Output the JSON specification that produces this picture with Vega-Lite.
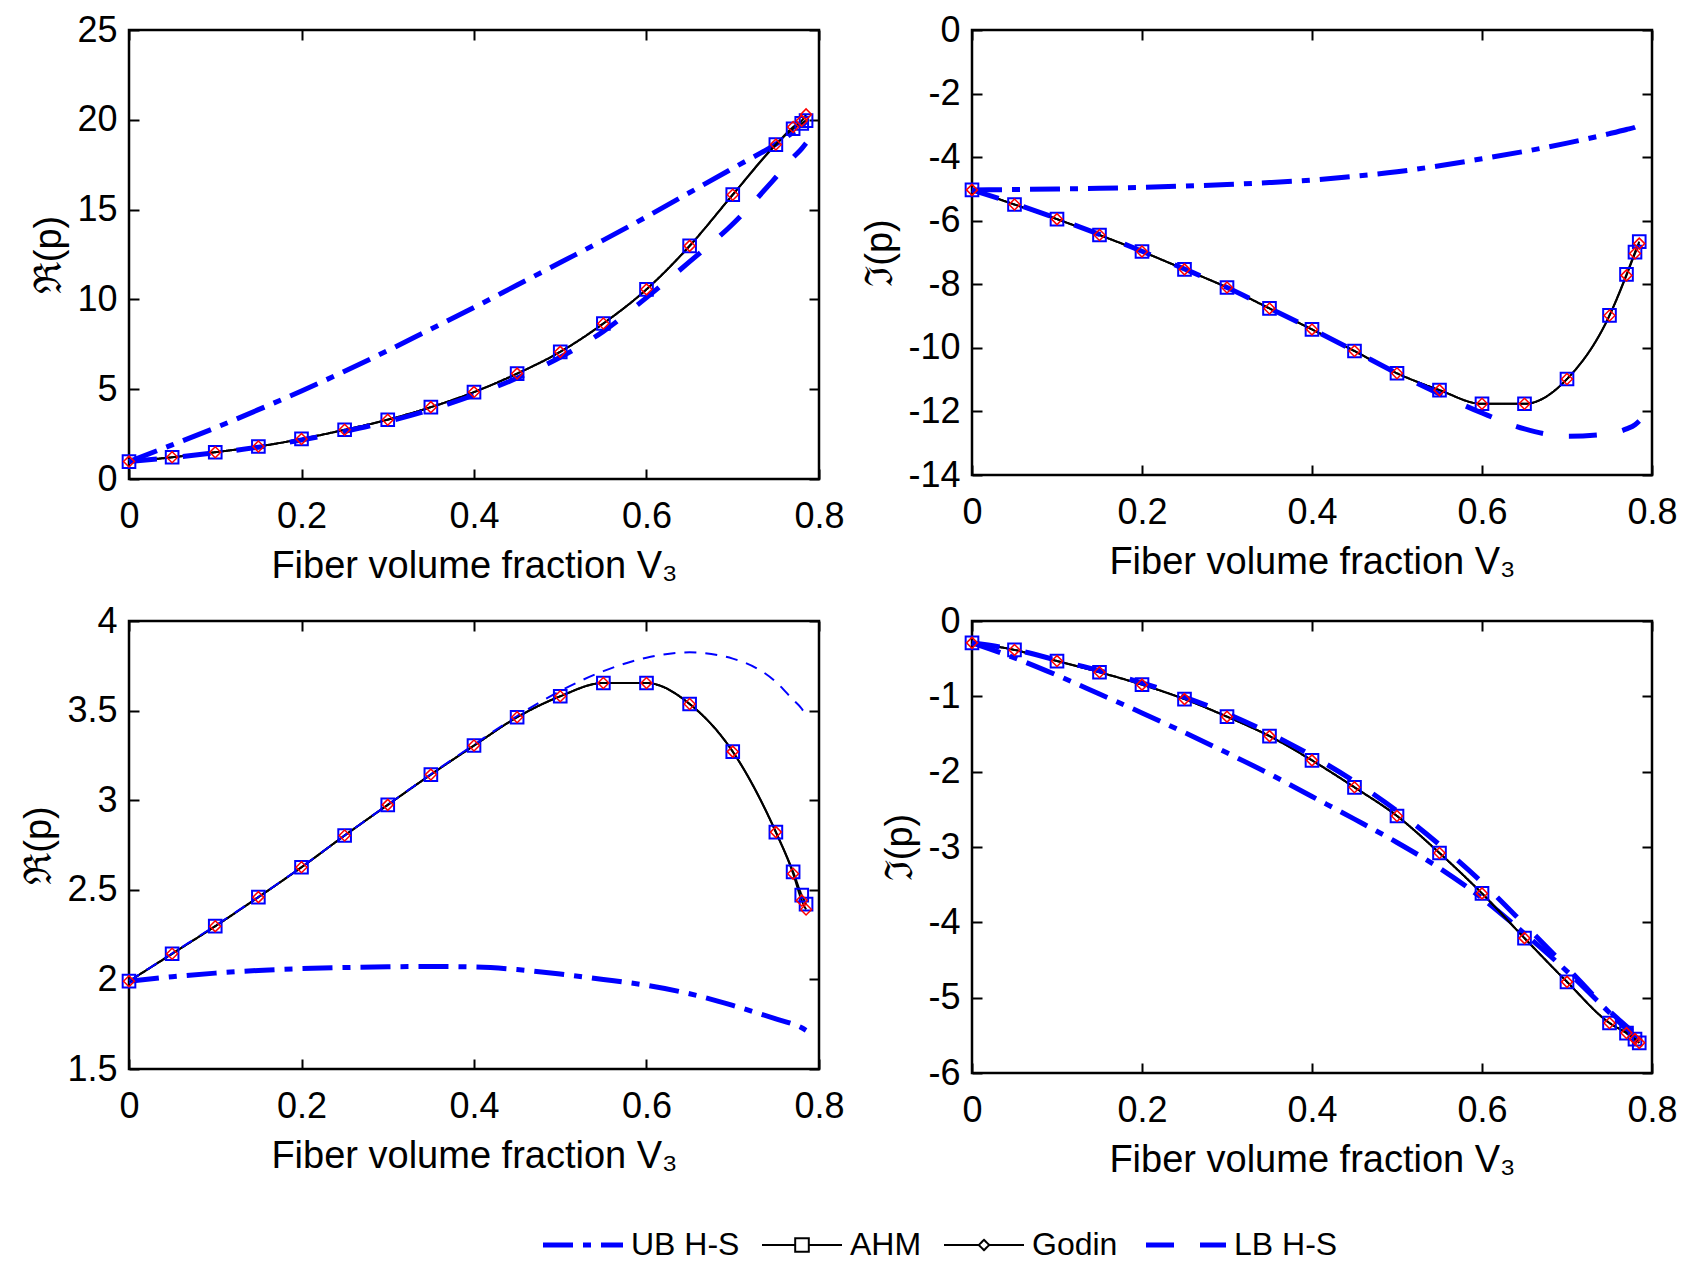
{
  "$schema": "https://vega.github.io/schema/vega-lite/v6.json",
  "background": "#ffffff",
  "padding": {"left": 19, "top": 10, "right": 5, "bottom": 5},
  "config": {
    "font": "Liberation Sans",
    "view": {"stroke": "#000000", "strokeWidth": 2.5},
    "axis": {"grid": false, "domain": false, "tickColor": "#000000", "tickWidth": 2, "tickSize": -10, "labelFont": "Liberation Sans", "labelFontSize": 36, "labelColor": "#000000", "titleFont": "Liberation Sans", "titleFontSize": 38, "titleFontWeight": "normal", "titleColor": "#000000", "titlePadding": 8, "labelFlush": false, "labelOverlap": false},
    "axisX": {"labelPadding": 30, "titlePadding": 13},
    "axisY": {"labelPadding": 22}
  },
  "datasets": {
    "tl": [
      {"x":0,"model":"UB H-S","y":0.97},{"x":0.05,"model":"UB H-S","y":1.9},{"x":0.1,"model":"UB H-S","y":2.85},{"x":0.15,"model":"UB H-S","y":3.86},{"x":0.2,"model":"UB H-S","y":4.9},{"x":0.25,"model":"UB H-S","y":6.0},{"x":0.3,"model":"UB H-S","y":7.15},{"x":0.35,"model":"UB H-S","y":8.35},{"x":0.4,"model":"UB H-S","y":9.55},{"x":0.45,"model":"UB H-S","y":10.8},{"x":0.5,"model":"UB H-S","y":12.05},{"x":0.55,"model":"UB H-S","y":13.3},{"x":0.6,"model":"UB H-S","y":14.6},{"x":0.65,"model":"UB H-S","y":15.95},{"x":0.7,"model":"UB H-S","y":17.3},{"x":0.75,"model":"UB H-S","y":18.65},{"x":0.77,"model":"UB H-S","y":19.3},{"x":0.78,"model":"UB H-S","y":19.65},{"x":0.785,"model":"UB H-S","y":19.9},
      {"x":0,"model":"AHM","y":0.97},{"x":0.05,"model":"AHM","y":1.21},{"x":0.1,"model":"AHM","y":1.49},{"x":0.15,"model":"AHM","y":1.81},{"x":0.2,"model":"AHM","y":2.23},{"x":0.25,"model":"AHM","y":2.74},{"x":0.3,"model":"AHM","y":3.3},{"x":0.35,"model":"AHM","y":4.0},{"x":0.4,"model":"AHM","y":4.84},{"x":0.45,"model":"AHM","y":5.87},{"x":0.5,"model":"AHM","y":7.08},{"x":0.55,"model":"AHM","y":8.66},{"x":0.6,"model":"AHM","y":10.56},{"x":0.65,"model":"AHM","y":12.98},{"x":0.7,"model":"AHM","y":15.83},{"x":0.75,"model":"AHM","y":18.62},{"x":0.77,"model":"AHM","y":19.5},{"x":0.78,"model":"AHM","y":19.8},{"x":0.785,"model":"AHM","y":19.95},
      {"x":0,"model":"Godin","y":0.97},{"x":0.05,"model":"Godin","y":1.21},{"x":0.1,"model":"Godin","y":1.49},{"x":0.15,"model":"Godin","y":1.81},{"x":0.2,"model":"Godin","y":2.23},{"x":0.25,"model":"Godin","y":2.74},{"x":0.3,"model":"Godin","y":3.3},{"x":0.35,"model":"Godin","y":4.0},{"x":0.4,"model":"Godin","y":4.84},{"x":0.45,"model":"Godin","y":5.87},{"x":0.5,"model":"Godin","y":7.08},{"x":0.55,"model":"Godin","y":8.66},{"x":0.6,"model":"Godin","y":10.56},{"x":0.65,"model":"Godin","y":12.98},{"x":0.7,"model":"Godin","y":15.83},{"x":0.75,"model":"Godin","y":18.62},{"x":0.77,"model":"Godin","y":19.6},{"x":0.78,"model":"Godin","y":19.95},{"x":0.785,"model":"Godin","y":20.3},
      {"x":0,"model":"LB H-S","y":0.97},{"x":0.05,"model":"LB H-S","y":1.19},{"x":0.1,"model":"LB H-S","y":1.46},{"x":0.15,"model":"LB H-S","y":1.77},{"x":0.2,"model":"LB H-S","y":2.17},{"x":0.25,"model":"LB H-S","y":2.65},{"x":0.3,"model":"LB H-S","y":3.2},{"x":0.35,"model":"LB H-S","y":3.87},{"x":0.4,"model":"LB H-S","y":4.67},{"x":0.45,"model":"LB H-S","y":5.62},{"x":0.5,"model":"LB H-S","y":6.78},{"x":0.55,"model":"LB H-S","y":8.22},{"x":0.6,"model":"LB H-S","y":10.1},{"x":0.65,"model":"LB H-S","y":12.1},{"x":0.7,"model":"LB H-S","y":14.2},{"x":0.75,"model":"LB H-S","y":16.8},{"x":0.77,"model":"LB H-S","y":17.9},{"x":0.78,"model":"LB H-S","y":18.4},{"x":0.785,"model":"LB H-S","y":18.7}
    ],
    "tr": [
      {"x":0,"model":"UB H-S","y":-5.03},{"x":0.05,"model":"UB H-S","y":-5.02},{"x":0.1,"model":"UB H-S","y":-5.0},{"x":0.15,"model":"UB H-S","y":-4.98},{"x":0.2,"model":"UB H-S","y":-4.95},{"x":0.25,"model":"UB H-S","y":-4.91},{"x":0.3,"model":"UB H-S","y":-4.86},{"x":0.35,"model":"UB H-S","y":-4.8},{"x":0.4,"model":"UB H-S","y":-4.72},{"x":0.45,"model":"UB H-S","y":-4.6},{"x":0.5,"model":"UB H-S","y":-4.46},{"x":0.55,"model":"UB H-S","y":-4.27},{"x":0.6,"model":"UB H-S","y":-4.05},{"x":0.65,"model":"UB H-S","y":-3.82},{"x":0.7,"model":"UB H-S","y":-3.56},{"x":0.75,"model":"UB H-S","y":-3.26},{"x":0.77,"model":"UB H-S","y":-3.13},{"x":0.78,"model":"UB H-S","y":-3.06},{"x":0.785,"model":"UB H-S","y":-3.0},
      {"x":0,"model":"AHM","y":-5.03},{"x":0.05,"model":"AHM","y":-5.49},{"x":0.1,"model":"AHM","y":-5.95},{"x":0.15,"model":"AHM","y":-6.45},{"x":0.2,"model":"AHM","y":-6.97},{"x":0.25,"model":"AHM","y":-7.53},{"x":0.3,"model":"AHM","y":-8.1},{"x":0.35,"model":"AHM","y":-8.76},{"x":0.4,"model":"AHM","y":-9.42},{"x":0.45,"model":"AHM","y":-10.1},{"x":0.5,"model":"AHM","y":-10.8},{"x":0.55,"model":"AHM","y":-11.33},{"x":0.6,"model":"AHM","y":-11.76},{"x":0.65,"model":"AHM","y":-11.76},{"x":0.7,"model":"AHM","y":-10.98},{"x":0.75,"model":"AHM","y":-8.98},{"x":0.77,"model":"AHM","y":-7.69},{"x":0.78,"model":"AHM","y":-6.99},{"x":0.785,"model":"AHM","y":-6.66},
      {"x":0,"model":"Godin","y":-5.03},{"x":0.05,"model":"Godin","y":-5.49},{"x":0.1,"model":"Godin","y":-5.95},{"x":0.15,"model":"Godin","y":-6.45},{"x":0.2,"model":"Godin","y":-6.97},{"x":0.25,"model":"Godin","y":-7.53},{"x":0.3,"model":"Godin","y":-8.1},{"x":0.35,"model":"Godin","y":-8.76},{"x":0.4,"model":"Godin","y":-9.42},{"x":0.45,"model":"Godin","y":-10.1},{"x":0.5,"model":"Godin","y":-10.8},{"x":0.55,"model":"Godin","y":-11.33},{"x":0.6,"model":"Godin","y":-11.76},{"x":0.65,"model":"Godin","y":-11.76},{"x":0.7,"model":"Godin","y":-10.98},{"x":0.75,"model":"Godin","y":-8.98},{"x":0.77,"model":"Godin","y":-7.72},{"x":0.78,"model":"Godin","y":-7.03},{"x":0.785,"model":"Godin","y":-6.72},
      {"x":0,"model":"LB H-S","y":-5.03},{"x":0.05,"model":"LB H-S","y":-5.46},{"x":0.1,"model":"LB H-S","y":-5.93},{"x":0.15,"model":"LB H-S","y":-6.43},{"x":0.2,"model":"LB H-S","y":-6.96},{"x":0.25,"model":"LB H-S","y":-7.52},{"x":0.3,"model":"LB H-S","y":-8.1},{"x":0.35,"model":"LB H-S","y":-8.75},{"x":0.4,"model":"LB H-S","y":-9.41},{"x":0.45,"model":"LB H-S","y":-10.1},{"x":0.5,"model":"LB H-S","y":-10.8},{"x":0.55,"model":"LB H-S","y":-11.45},{"x":0.6,"model":"LB H-S","y":-12.05},{"x":0.65,"model":"LB H-S","y":-12.55},{"x":0.7,"model":"LB H-S","y":-12.78},{"x":0.75,"model":"LB H-S","y":-12.7},{"x":0.77,"model":"LB H-S","y":-12.55},{"x":0.78,"model":"LB H-S","y":-12.42},{"x":0.785,"model":"LB H-S","y":-12.3}
    ],
    "bl": [
      {"x":0,"model":"UB H-S","y":1.99},{"x":0.05,"model":"UB H-S","y":2.015},{"x":0.1,"model":"UB H-S","y":2.035},{"x":0.15,"model":"UB H-S","y":2.05},{"x":0.2,"model":"UB H-S","y":2.06},{"x":0.25,"model":"UB H-S","y":2.066},{"x":0.3,"model":"UB H-S","y":2.07},{"x":0.35,"model":"UB H-S","y":2.072},{"x":0.4,"model":"UB H-S","y":2.069},{"x":0.45,"model":"UB H-S","y":2.055},{"x":0.5,"model":"UB H-S","y":2.03},{"x":0.55,"model":"UB H-S","y":2.0},{"x":0.6,"model":"UB H-S","y":1.967},{"x":0.65,"model":"UB H-S","y":1.92},{"x":0.7,"model":"UB H-S","y":1.855},{"x":0.75,"model":"UB H-S","y":1.78},{"x":0.77,"model":"UB H-S","y":1.75},{"x":0.78,"model":"UB H-S","y":1.73},{"x":0.785,"model":"UB H-S","y":1.716},
      {"x":0,"model":"AHM","y":1.99},{"x":0.05,"model":"AHM","y":2.143},{"x":0.1,"model":"AHM","y":2.297},{"x":0.15,"model":"AHM","y":2.459},{"x":0.2,"model":"AHM","y":2.626},{"x":0.25,"model":"AHM","y":2.803},{"x":0.3,"model":"AHM","y":2.974},{"x":0.35,"model":"AHM","y":3.143},{"x":0.4,"model":"AHM","y":3.305},{"x":0.45,"model":"AHM","y":3.463},{"x":0.5,"model":"AHM","y":3.58},{"x":0.55,"model":"AHM","y":3.654},{"x":0.6,"model":"AHM","y":3.654},{"x":0.65,"model":"AHM","y":3.537},{"x":0.7,"model":"AHM","y":3.271},{"x":0.75,"model":"AHM","y":2.822},{"x":0.77,"model":"AHM","y":2.6},{"x":0.78,"model":"AHM","y":2.47},{"x":0.785,"model":"AHM","y":2.42},
      {"x":0,"model":"Godin","y":1.99},{"x":0.05,"model":"Godin","y":2.143},{"x":0.1,"model":"Godin","y":2.297},{"x":0.15,"model":"Godin","y":2.459},{"x":0.2,"model":"Godin","y":2.626},{"x":0.25,"model":"Godin","y":2.803},{"x":0.3,"model":"Godin","y":2.974},{"x":0.35,"model":"Godin","y":3.143},{"x":0.4,"model":"Godin","y":3.305},{"x":0.45,"model":"Godin","y":3.463},{"x":0.5,"model":"Godin","y":3.58},{"x":0.55,"model":"Godin","y":3.654},{"x":0.6,"model":"Godin","y":3.654},{"x":0.65,"model":"Godin","y":3.537},{"x":0.7,"model":"Godin","y":3.271},{"x":0.75,"model":"Godin","y":2.822},{"x":0.77,"model":"Godin","y":2.59},{"x":0.78,"model":"Godin","y":2.44},{"x":0.785,"model":"Godin","y":2.39},
      {"x":0,"model":"LB H-S","y":1.99},{"x":0.05,"model":"LB H-S","y":2.145},{"x":0.1,"model":"LB H-S","y":2.3},{"x":0.15,"model":"LB H-S","y":2.46},{"x":0.2,"model":"LB H-S","y":2.627},{"x":0.25,"model":"LB H-S","y":2.803},{"x":0.3,"model":"LB H-S","y":2.975},{"x":0.35,"model":"LB H-S","y":3.145},{"x":0.4,"model":"LB H-S","y":3.31},{"x":0.45,"model":"LB H-S","y":3.47},{"x":0.5,"model":"LB H-S","y":3.61},{"x":0.55,"model":"LB H-S","y":3.72},{"x":0.6,"model":"LB H-S","y":3.795},{"x":0.65,"model":"LB H-S","y":3.825},{"x":0.7,"model":"LB H-S","y":3.79},{"x":0.75,"model":"LB H-S","y":3.66},{"x":0.77,"model":"LB H-S","y":3.56},{"x":0.78,"model":"LB H-S","y":3.51},{"x":0.785,"model":"LB H-S","y":3.47}
    ],
    "br": [
      {"x":0,"model":"UB H-S","y":-0.29},{"x":0.05,"model":"UB H-S","y":-0.49},{"x":0.1,"model":"UB H-S","y":-0.72},{"x":0.15,"model":"UB H-S","y":-0.97},{"x":0.2,"model":"UB H-S","y":-1.22},{"x":0.25,"model":"UB H-S","y":-1.48},{"x":0.3,"model":"UB H-S","y":-1.75},{"x":0.35,"model":"UB H-S","y":-2.03},{"x":0.4,"model":"UB H-S","y":-2.33},{"x":0.45,"model":"UB H-S","y":-2.63},{"x":0.5,"model":"UB H-S","y":-2.94},{"x":0.55,"model":"UB H-S","y":-3.28},{"x":0.6,"model":"UB H-S","y":-3.68},{"x":0.65,"model":"UB H-S","y":-4.15},{"x":0.7,"model":"UB H-S","y":-4.65},{"x":0.75,"model":"UB H-S","y":-5.2},{"x":0.77,"model":"UB H-S","y":-5.42},{"x":0.78,"model":"UB H-S","y":-5.54},{"x":0.785,"model":"UB H-S","y":-5.62},
      {"x":0,"model":"AHM","y":-0.29},{"x":0.05,"model":"AHM","y":-0.384},{"x":0.1,"model":"AHM","y":-0.532},{"x":0.15,"model":"AHM","y":-0.68},{"x":0.2,"model":"AHM","y":-0.845},{"x":0.25,"model":"AHM","y":-1.037},{"x":0.3,"model":"AHM","y":-1.27},{"x":0.35,"model":"AHM","y":-1.528},{"x":0.4,"model":"AHM","y":-1.85},{"x":0.45,"model":"AHM","y":-2.208},{"x":0.5,"model":"AHM","y":-2.588},{"x":0.55,"model":"AHM","y":-3.08},{"x":0.6,"model":"AHM","y":-3.616},{"x":0.65,"model":"AHM","y":-4.21},{"x":0.7,"model":"AHM","y":-4.79},{"x":0.75,"model":"AHM","y":-5.336},{"x":0.77,"model":"AHM","y":-5.47},{"x":0.78,"model":"AHM","y":-5.55},{"x":0.785,"model":"AHM","y":-5.6},
      {"x":0,"model":"Godin","y":-0.29},{"x":0.05,"model":"Godin","y":-0.384},{"x":0.1,"model":"Godin","y":-0.532},{"x":0.15,"model":"Godin","y":-0.68},{"x":0.2,"model":"Godin","y":-0.845},{"x":0.25,"model":"Godin","y":-1.037},{"x":0.3,"model":"Godin","y":-1.27},{"x":0.35,"model":"Godin","y":-1.528},{"x":0.4,"model":"Godin","y":-1.85},{"x":0.45,"model":"Godin","y":-2.208},{"x":0.5,"model":"Godin","y":-2.588},{"x":0.55,"model":"Godin","y":-3.08},{"x":0.6,"model":"Godin","y":-3.616},{"x":0.65,"model":"Godin","y":-4.21},{"x":0.7,"model":"Godin","y":-4.79},{"x":0.75,"model":"Godin","y":-5.336},{"x":0.77,"model":"Godin","y":-5.47},{"x":0.78,"model":"Godin","y":-5.55},{"x":0.785,"model":"Godin","y":-5.6},
      {"x":0,"model":"LB H-S","y":-0.29},{"x":0.05,"model":"LB H-S","y":-0.38},{"x":0.1,"model":"LB H-S","y":-0.52},{"x":0.15,"model":"LB H-S","y":-0.66},{"x":0.2,"model":"LB H-S","y":-0.82},{"x":0.25,"model":"LB H-S","y":-1.01},{"x":0.3,"model":"LB H-S","y":-1.23},{"x":0.35,"model":"LB H-S","y":-1.49},{"x":0.4,"model":"LB H-S","y":-1.79},{"x":0.45,"model":"LB H-S","y":-2.13},{"x":0.5,"model":"LB H-S","y":-2.52},{"x":0.55,"model":"LB H-S","y":-2.97},{"x":0.6,"model":"LB H-S","y":-3.47},{"x":0.65,"model":"LB H-S","y":-4.03},{"x":0.7,"model":"LB H-S","y":-4.6},{"x":0.75,"model":"LB H-S","y":-5.18},{"x":0.77,"model":"LB H-S","y":-5.38},{"x":0.78,"model":"LB H-S","y":-5.48},{"x":0.785,"model":"LB H-S","y":-5.54}
    ]
  },
  "columns": 2,
  "spacing": {"row": 142, "column": 153},
  "bounds": "flush",
  "resolve": {"scale": {"color": "shared", "strokeDash": "shared"}, "legend": {"color": "shared", "strokeDash": "shared"}},
  "concat": [
    {
      "width": 690, "height": 449,
      "data": {"name": "tl"},
      "layer": [
        {
          "mark": {"type": "line", "interpolate": "monotone"},
          "encoding": {
            "x": {"field": "x", "type": "quantitative", "scale": {"domain": [0, 0.8], "nice": false}, "axis": {"values": [0, 0.2, 0.4, 0.6, 0.8], "title": "Fiber volume fraction V₃", "labelExpr": "replace(format(datum.value, '~g'), '\u2212', '-')"}},
            "y": {"field": "y", "type": "quantitative", "scale": {"domain": [0, 25], "nice": false, "zero": false}, "axis": {"values": [0, 5, 10, 15, 20, 25], "title": "ℜ(p)", "labelExpr": "replace(format(datum.value, '~g'), '\u2212', '-')"}},
            "color": {"field": "model", "type": "nominal", "scale": {"domain": ["UB H-S", "AHM", "Godin", "LB H-S"], "range": ["#0000ff", "#000000", "#000000", "#0000ff"]},
              "legend": {"orient": "none", "legendX": 438, "legendY": 1199, "direction": "horizontal", "title": null, "labelFontSize": 32, "labelFont": "Liberation Sans", "labelColor": "#000000", "symbolType": "stroke", "symbolSize": 6400, "symbolStrokeWidth": 5, "labelOffset": 32, "columnPadding": 18,
                "encode": {"symbols": {"update": {"shape": {"signal": "datum.value === 'AHM' ? 'M-1,0H-0.17M0.17,0H1M-0.17,-0.17H0.17V0.17H-0.17Z' : datum.value === 'Godin' ? 'M-1,0H-0.13M0.13,0H1M0,-0.13L0.13,0L0,0.13L-0.13,0Z' : 'stroke'"}, "strokeWidth": {"signal": "datum.value === 'AHM' || datum.value === 'Godin' ? 2 : 5"}}}}}},
            "strokeDash": {"field": "model", "type": "nominal", "scale": {"domain": ["UB H-S", "AHM", "Godin", "LB H-S"], "range": [[30, 10, 8, 10], [1, 0], [1, 0], [28, 26]]},
              "legend": {"orient": "none", "legendX": 438, "legendY": 1199, "direction": "horizontal", "title": null, "labelFontSize": 32, "labelFont": "Liberation Sans", "labelColor": "#000000", "symbolType": "stroke", "symbolSize": 6400, "symbolStrokeWidth": 5, "labelOffset": 32, "columnPadding": 18,
                "encode": {"symbols": {"update": {"shape": {"signal": "datum.value === 'AHM' ? 'M-1,0H-0.17M0.17,0H1M-0.17,-0.17H0.17V0.17H-0.17Z' : datum.value === 'Godin' ? 'M-1,0H-0.13M0.13,0H1M0,-0.13L0.13,0L0,0.13L-0.13,0Z' : 'stroke'"}, "strokeWidth": {"signal": "datum.value === 'AHM' || datum.value === 'Godin' ? 2 : 5"}}}}}},
            "strokeWidth": {"condition": {"test": "datum.model === 'UB H-S' || datum.model === 'LB H-S'", "value": 5}, "value": 2}
          }
        },
        {
          "transform": [{"filter": "datum.model === 'AHM'"}],
          "mark": {"type": "point", "shape": "square", "filled": false, "size": 160, "strokeWidth": 2, "color": "#0000ff", "opacity": 1},
          "encoding": {
            "x": {"field": "x", "type": "quantitative", "axis": {"orient": "top", "labels": false, "title": null, "values": [0, 0.2, 0.4, 0.6, 0.8]}},
            "y": {"field": "y", "type": "quantitative", "axis": {"orient": "right", "labels": false, "title": null, "values": [0, 5, 10, 15, 20, 25]}}
          }
        },
        {
          "transform": [{"filter": "datum.model === 'Godin'"}],
          "mark": {"type": "point", "shape": "diamond", "filled": false, "size": 120, "strokeWidth": 1.5, "color": "#ff0000", "opacity": 1},
          "encoding": {
            "x": {"field": "x", "type": "quantitative", "axis": null},
            "y": {"field": "y", "type": "quantitative", "axis": null}
          }
        }
      ],
      "resolve": {"axis": {"x": "independent", "y": "independent"}}
    },
    {
      "width": 680, "height": 445,
      "data": {"name": "tr"},
      "layer": [
        {
          "mark": {"type": "line", "interpolate": "monotone"},
          "encoding": {
            "x": {"field": "x", "type": "quantitative", "scale": {"domain": [0, 0.8], "nice": false}, "axis": {"values": [0, 0.2, 0.4, 0.6, 0.8], "title": "Fiber volume fraction V₃", "labelExpr": "replace(format(datum.value, '~g'), '\u2212', '-')"}},
            "y": {"field": "y", "type": "quantitative", "scale": {"domain": [-14, 0], "nice": false, "zero": false}, "axis": {"values": [-14, -12, -10, -8, -6, -4, -2, 0], "title": "ℑ(p)", "labelExpr": "replace(format(datum.value, '~g'), '\u2212', '-')"}},
            "color": {"field": "model", "type": "nominal", "scale": {"domain": ["UB H-S", "AHM", "Godin", "LB H-S"], "range": ["#0000ff", "#000000", "#000000", "#0000ff"]},
              "legend": {"orient": "none", "legendX": 438, "legendY": 1199, "direction": "horizontal", "title": null, "labelFontSize": 32, "labelFont": "Liberation Sans", "labelColor": "#000000", "symbolType": "stroke", "symbolSize": 6400, "symbolStrokeWidth": 5, "labelOffset": 32, "columnPadding": 18,
                "encode": {"symbols": {"update": {"shape": {"signal": "datum.value === 'AHM' ? 'M-1,0H-0.17M0.17,0H1M-0.17,-0.17H0.17V0.17H-0.17Z' : datum.value === 'Godin' ? 'M-1,0H-0.13M0.13,0H1M0,-0.13L0.13,0L0,0.13L-0.13,0Z' : 'stroke'"}, "strokeWidth": {"signal": "datum.value === 'AHM' || datum.value === 'Godin' ? 2 : 5"}}}}}},
            "strokeDash": {"field": "model", "type": "nominal", "scale": {"domain": ["UB H-S", "AHM", "Godin", "LB H-S"], "range": [[30, 10, 8, 10], [1, 0], [1, 0], [28, 26]]},
              "legend": {"orient": "none", "legendX": 438, "legendY": 1199, "direction": "horizontal", "title": null, "labelFontSize": 32, "labelFont": "Liberation Sans", "labelColor": "#000000", "symbolType": "stroke", "symbolSize": 6400, "symbolStrokeWidth": 5, "labelOffset": 32, "columnPadding": 18,
                "encode": {"symbols": {"update": {"shape": {"signal": "datum.value === 'AHM' ? 'M-1,0H-0.17M0.17,0H1M-0.17,-0.17H0.17V0.17H-0.17Z' : datum.value === 'Godin' ? 'M-1,0H-0.13M0.13,0H1M0,-0.13L0.13,0L0,0.13L-0.13,0Z' : 'stroke'"}, "strokeWidth": {"signal": "datum.value === 'AHM' || datum.value === 'Godin' ? 2 : 5"}}}}}},
            "strokeWidth": {"condition": {"test": "datum.model === 'UB H-S' || datum.model === 'LB H-S'", "value": 5}, "value": 2}
          }
        },
        {
          "transform": [{"filter": "datum.model === 'AHM'"}],
          "mark": {"type": "point", "shape": "square", "filled": false, "size": 160, "strokeWidth": 2, "color": "#0000ff", "opacity": 1},
          "encoding": {
            "x": {"field": "x", "type": "quantitative", "axis": {"orient": "top", "labels": false, "title": null, "values": [0, 0.2, 0.4, 0.6, 0.8]}},
            "y": {"field": "y", "type": "quantitative", "axis": {"orient": "right", "labels": false, "title": null, "values": [-14, -12, -10, -8, -6, -4, -2, 0]}}
          }
        },
        {
          "transform": [{"filter": "datum.model === 'Godin'"}],
          "mark": {"type": "point", "shape": "diamond", "filled": false, "size": 120, "strokeWidth": 1.5, "color": "#ff0000", "opacity": 1},
          "encoding": {
            "x": {"field": "x", "type": "quantitative", "axis": null},
            "y": {"field": "y", "type": "quantitative", "axis": null}
          }
        }
      ],
      "resolve": {"axis": {"x": "independent", "y": "independent"}}
    },
    {
      "width": 690, "height": 448,
      "data": {"name": "bl"},
      "layer": [
        {
          "mark": {"type": "line", "interpolate": "monotone"},
          "encoding": {
            "x": {"field": "x", "type": "quantitative", "scale": {"domain": [0, 0.8], "nice": false}, "axis": {"values": [0, 0.2, 0.4, 0.6, 0.8], "title": "Fiber volume fraction V₃", "labelExpr": "replace(format(datum.value, '~g'), '\u2212', '-')"}},
            "y": {"field": "y", "type": "quantitative", "scale": {"domain": [1.5, 4], "nice": false, "zero": false}, "axis": {"values": [1.5, 2, 2.5, 3, 3.5, 4], "title": "ℜ(p)", "labelExpr": "replace(format(datum.value, '~g'), '\u2212', '-')"}},
            "color": {"field": "model", "type": "nominal", "scale": {"domain": ["UB H-S", "AHM", "Godin", "LB H-S"], "range": ["#0000ff", "#000000", "#000000", "#0000ff"]},
              "legend": {"orient": "none", "legendX": 438, "legendY": 1199, "direction": "horizontal", "title": null, "labelFontSize": 32, "labelFont": "Liberation Sans", "labelColor": "#000000", "symbolType": "stroke", "symbolSize": 6400, "symbolStrokeWidth": 5, "labelOffset": 32, "columnPadding": 18,
                "encode": {"symbols": {"update": {"shape": {"signal": "datum.value === 'AHM' ? 'M-1,0H-0.17M0.17,0H1M-0.17,-0.17H0.17V0.17H-0.17Z' : datum.value === 'Godin' ? 'M-1,0H-0.13M0.13,0H1M0,-0.13L0.13,0L0,0.13L-0.13,0Z' : 'stroke'"}, "strokeWidth": {"signal": "datum.value === 'AHM' || datum.value === 'Godin' ? 2 : 5"}}}}}},
            "strokeDash": {"field": "model", "type": "nominal", "scale": {"domain": ["UB H-S", "AHM", "Godin", "LB H-S"], "range": [[30, 10, 8, 10], [1, 0], [1, 0], [28, 26]]},
              "condition": {"test": "datum.model === 'LB H-S'", "value": [12, 9]},
              "legend": {"orient": "none", "legendX": 438, "legendY": 1199, "direction": "horizontal", "title": null, "labelFontSize": 32, "labelFont": "Liberation Sans", "labelColor": "#000000", "symbolType": "stroke", "symbolSize": 6400, "symbolStrokeWidth": 5, "labelOffset": 32, "columnPadding": 18,
                "encode": {"symbols": {"update": {"shape": {"signal": "datum.value === 'AHM' ? 'M-1,0H-0.17M0.17,0H1M-0.17,-0.17H0.17V0.17H-0.17Z' : datum.value === 'Godin' ? 'M-1,0H-0.13M0.13,0H1M0,-0.13L0.13,0L0,0.13L-0.13,0Z' : 'stroke'"}, "strokeWidth": {"signal": "datum.value === 'AHM' || datum.value === 'Godin' ? 2 : 5"}}}}}},
            "strokeWidth": {"condition": {"test": "datum.model === 'UB H-S'", "value": 5}, "value": 2}
          }
        },
        {
          "transform": [{"filter": "datum.model === 'AHM'"}],
          "mark": {"type": "point", "shape": "square", "filled": false, "size": 160, "strokeWidth": 2, "color": "#0000ff", "opacity": 1},
          "encoding": {
            "x": {"field": "x", "type": "quantitative", "axis": {"orient": "top", "labels": false, "title": null, "values": [0, 0.2, 0.4, 0.6, 0.8]}},
            "y": {"field": "y", "type": "quantitative", "axis": {"orient": "right", "labels": false, "title": null, "values": [1.5, 2, 2.5, 3, 3.5, 4]}}
          }
        },
        {
          "transform": [{"filter": "datum.model === 'Godin'"}],
          "mark": {"type": "point", "shape": "diamond", "filled": false, "size": 120, "strokeWidth": 1.5, "color": "#ff0000", "opacity": 1},
          "encoding": {
            "x": {"field": "x", "type": "quantitative", "axis": null},
            "y": {"field": "y", "type": "quantitative", "axis": null}
          }
        }
      ],
      "resolve": {"axis": {"x": "independent", "y": "independent"}}
    },
    {
      "width": 680, "height": 452,
      "data": {"name": "br"},
      "layer": [
        {
          "mark": {"type": "line", "interpolate": "monotone"},
          "encoding": {
            "x": {"field": "x", "type": "quantitative", "scale": {"domain": [0, 0.8], "nice": false}, "axis": {"values": [0, 0.2, 0.4, 0.6, 0.8], "title": "Fiber volume fraction V₃", "labelExpr": "replace(format(datum.value, '~g'), '\u2212', '-')"}},
            "y": {"field": "y", "type": "quantitative", "scale": {"domain": [-6, 0], "nice": false, "zero": false}, "axis": {"values": [-6, -5, -4, -3, -2, -1, 0], "title": "ℑ(p)", "labelExpr": "replace(format(datum.value, '~g'), '\u2212', '-')"}},
            "color": {"field": "model", "type": "nominal", "scale": {"domain": ["UB H-S", "AHM", "Godin", "LB H-S"], "range": ["#0000ff", "#000000", "#000000", "#0000ff"]},
              "legend": {"orient": "none", "legendX": 438, "legendY": 1199, "direction": "horizontal", "title": null, "labelFontSize": 32, "labelFont": "Liberation Sans", "labelColor": "#000000", "symbolType": "stroke", "symbolSize": 6400, "symbolStrokeWidth": 5, "labelOffset": 32, "columnPadding": 18,
                "encode": {"symbols": {"update": {"shape": {"signal": "datum.value === 'AHM' ? 'M-1,0H-0.17M0.17,0H1M-0.17,-0.17H0.17V0.17H-0.17Z' : datum.value === 'Godin' ? 'M-1,0H-0.13M0.13,0H1M0,-0.13L0.13,0L0,0.13L-0.13,0Z' : 'stroke'"}, "strokeWidth": {"signal": "datum.value === 'AHM' || datum.value === 'Godin' ? 2 : 5"}}}}}},
            "strokeDash": {"field": "model", "type": "nominal", "scale": {"domain": ["UB H-S", "AHM", "Godin", "LB H-S"], "range": [[30, 10, 8, 10], [1, 0], [1, 0], [28, 26]]},
              "legend": {"orient": "none", "legendX": 438, "legendY": 1199, "direction": "horizontal", "title": null, "labelFontSize": 32, "labelFont": "Liberation Sans", "labelColor": "#000000", "symbolType": "stroke", "symbolSize": 6400, "symbolStrokeWidth": 5, "labelOffset": 32, "columnPadding": 18,
                "encode": {"symbols": {"update": {"shape": {"signal": "datum.value === 'AHM' ? 'M-1,0H-0.17M0.17,0H1M-0.17,-0.17H0.17V0.17H-0.17Z' : datum.value === 'Godin' ? 'M-1,0H-0.13M0.13,0H1M0,-0.13L0.13,0L0,0.13L-0.13,0Z' : 'stroke'"}, "strokeWidth": {"signal": "datum.value === 'AHM' || datum.value === 'Godin' ? 2 : 5"}}}}}},
            "strokeWidth": {"condition": {"test": "datum.model === 'UB H-S' || datum.model === 'LB H-S'", "value": 5}, "value": 2}
          }
        },
        {
          "transform": [{"filter": "datum.model === 'AHM'"}],
          "mark": {"type": "point", "shape": "square", "filled": false, "size": 160, "strokeWidth": 2, "color": "#0000ff", "opacity": 1},
          "encoding": {
            "x": {"field": "x", "type": "quantitative", "axis": {"orient": "top", "labels": false, "title": null, "values": [0, 0.2, 0.4, 0.6, 0.8]}},
            "y": {"field": "y", "type": "quantitative", "axis": {"orient": "right", "labels": false, "title": null, "values": [-6, -5, -4, -3, -2, -1, 0]}}
          }
        },
        {
          "transform": [{"filter": "datum.model === 'Godin'"}],
          "mark": {"type": "point", "shape": "diamond", "filled": false, "size": 120, "strokeWidth": 1.5, "color": "#ff0000", "opacity": 1},
          "encoding": {
            "x": {"field": "x", "type": "quantitative", "axis": null},
            "y": {"field": "y", "type": "quantitative", "axis": null}
          }
        }
      ],
      "resolve": {"axis": {"x": "independent", "y": "independent"}}
    }
  ]
}
